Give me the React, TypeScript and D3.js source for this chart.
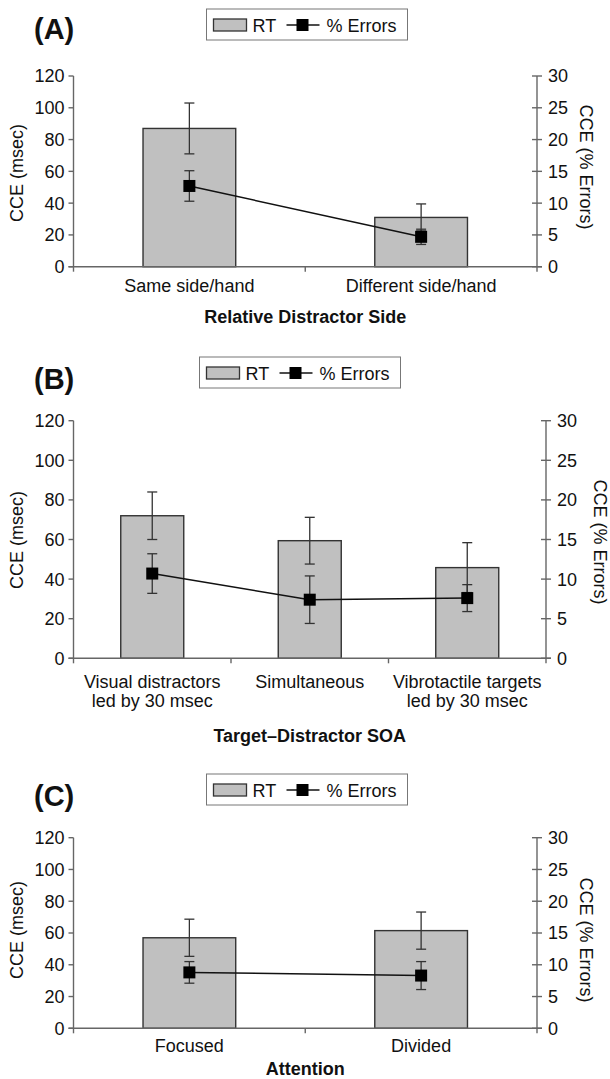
import React from "react";
import * as d3 from "d3";

// values
const leftTicks = [0, 20, 40, 60, 80, 100, 120];
const rightTicks = [0, 5, 10, 15, 20, 25, 30];

const sideCategories = ["Same side/hand", "Different side/hand"];
const sideRT = [87, 31];
const sideRTErr = [16, 8.5];
const sideErrors = [12.7, 4.7];
const sideErrorsErr = [2.4, 1.2];

const soaCategories = [
  "Visual distractors\nled by 30 msec",
  "Simultaneous",
  "Vibrotactile targets\nled by 30 msec",
];
const soaRT = [72, 59.4, 45.8];
const soaRTErr = [12, 11.8, 12.6];
const soaErrors = [10.7, 7.4, 7.6];
const soaErrorsErr = [2.5, 3, 1.7];

const attCategories = ["Focused", "Divided"];
const attRT = [57, 61.5];
const attRTErr = [11.7, 11.7];
const attErrors = [8.8, 8.3];
const attErrorsErr = [1.7, 2.2];

const FONT = "'Liberation Sans', Arial, Helvetica, sans-serif";
const BAR_FILL = "#c0c0c0";
const DARK = "#333";
const AXIS = "#666";

type PanelProps = {
  letter: string;
  title: string;
  categories: string[];
  rt: number[];
  rtErr: number[];
  errors: number[];
  errorsErr: number[];
  left: number;
  right: number;
  top: number;
  bottom: number;
  legendX: number;
  legendY: number;
  letterY: number;
  catY: number;
  titleY: number;
  leftLabelY: number;
  rightLabelX: number;
  rightLabelY: number;
};

const Panel = (p: PanelProps) => {
  const band = d3.scaleBand().domain(p.categories).range([p.left, p.right]);
  const y = d3.scaleLinear().domain([0, 120]).range([p.bottom, p.top]);
  const y2 = d3.scaleLinear().domain([0, 30]).range([p.bottom, p.top]);
  const cx = (c: string) => (band(c) as number) + band.bandwidth() / 2;
  const bw = band.bandwidth() * 0.4;

  const line = d3
    .line<number>()
    .x((_, i) => cx(p.categories[i]))
    .y((d) => y2(d));

  const cap = 5;
  const m = 12;
  const lx = p.legendX;
  const ly = p.legendY;

  return (
    <g fontFamily={FONT} fill="#111">
      <text x={34} y={p.letterY} fontSize={29} fontWeight="bold">
        {p.letter}
      </text>

      {/* legend */}
      <rect x={lx} y={ly} width={201} height={31} fill="#fff" stroke="#777" strokeWidth={1} />
      <rect x={lx + 7} y={ly + 10} width={33} height={12} fill={BAR_FILL} stroke={DARK} strokeWidth={1.3} />
      <text x={lx + 46} y={ly + 22.5} fontSize={18}>RT</text>
      <line x1={lx + 80} x2={lx + 113} y1={ly + 16} y2={ly + 16} stroke="#111" strokeWidth={1.4} />
      <rect x={lx + 96 - m / 2} y={ly + 16 - m / 2} width={m} height={m} fill="#000" />
      <text x={lx + 120} y={ly + 22.5} fontSize={18}>% Errors</text>

      {/* bars */}
      {p.categories.map((c, i) => (
        <rect
          key={c}
          x={cx(c) - bw / 2}
          y={y(p.rt[i])}
          width={bw}
          height={y(0) - y(p.rt[i])}
          fill={BAR_FILL}
          stroke={DARK}
          strokeWidth={1.4}
        />
      ))}
      {p.categories.map((c, i) => (
        <g key={c} stroke={DARK} strokeWidth={1.3}>
          <line x1={cx(c)} x2={cx(c)} y1={y(p.rt[i] + p.rtErr[i])} y2={y(p.rt[i] - p.rtErr[i])} />
          <line x1={cx(c) - cap} x2={cx(c) + cap} y1={y(p.rt[i] + p.rtErr[i])} y2={y(p.rt[i] + p.rtErr[i])} />
          <line x1={cx(c) - cap} x2={cx(c) + cap} y1={y(p.rt[i] - p.rtErr[i])} y2={y(p.rt[i] - p.rtErr[i])} />
        </g>
      ))}

      {/* axes */}
      <line x1={p.left} x2={p.left} y1={p.top} y2={p.bottom} stroke={AXIS} strokeWidth={1.4} />
      {leftTicks.map((t) => (
        <g key={t}>
          <line x1={p.left - 5} x2={p.left} y1={y(t)} y2={y(t)} stroke={AXIS} strokeWidth={1.4} />
          <text x={p.left - 9} y={y(t)} dy="0.36em" textAnchor="end" fontSize={18}>
            {t}
          </text>
        </g>
      ))}
      <line x1={p.right} x2={p.right} y1={p.top} y2={p.bottom} stroke={AXIS} strokeWidth={1.4} />
      {rightTicks.map((t) => (
        <g key={t}>
          <line x1={p.right - 5} x2={p.right + 5} y1={y2(t)} y2={y2(t)} stroke={AXIS} strokeWidth={1.4} />
          <text x={p.right + 11} y={y2(t)} dy="0.36em" fontSize={18}>
            {t}
          </text>
        </g>
      ))}
      <line x1={p.left - 5} x2={p.right + 5} y1={p.bottom} y2={p.bottom} stroke={AXIS} strokeWidth={1.4} />
      {[...p.categories.map((c) => band(c) as number), p.right].map((t, i) => (
        <line key={i} x1={t} x2={t} y1={p.bottom} y2={p.bottom + 5} stroke={AXIS} strokeWidth={1.4} />
      ))}

      {/* % errors line */}
      <path d={line(p.errors) || ""} fill="none" stroke="#111" strokeWidth={1.5} />
      {p.categories.map((c, i) => (
        <g key={c}>
          <g stroke={DARK} strokeWidth={1.3}>
            <line x1={cx(c)} x2={cx(c)} y1={y2(p.errors[i] + p.errorsErr[i])} y2={y2(p.errors[i] - p.errorsErr[i])} />
            <line x1={cx(c) - cap} x2={cx(c) + cap} y1={y2(p.errors[i] + p.errorsErr[i])} y2={y2(p.errors[i] + p.errorsErr[i])} />
            <line x1={cx(c) - cap} x2={cx(c) + cap} y1={y2(p.errors[i] - p.errorsErr[i])} y2={y2(p.errors[i] - p.errorsErr[i])} />
          </g>
          <rect x={cx(c) - m / 2} y={y2(p.errors[i]) - m / 2} width={m} height={m} fill="#000" />
        </g>
      ))}

      {/* category labels */}
      {p.categories.map((c) => (
        <text key={c} x={cx(c)} y={p.catY} textAnchor="middle" fontSize={18}>
          {c.split("\n").map((s, j) => (
            <tspan key={j} x={cx(c)} dy={j === 0 ? 0 : 19}>
              {s}
            </tspan>
          ))}
        </text>
      ))}
      <text x={(p.left + p.right) / 2} y={p.titleY} textAnchor="middle" fontSize={18} fontWeight="bold">
        {p.title}
      </text>

      <text transform={`translate(23,${p.leftLabelY}) rotate(-90)`} textAnchor="middle" fontSize={18}>
        CCE (msec)
      </text>
      <text transform={`translate(${p.rightLabelX},${p.rightLabelY}) rotate(90)`} textAnchor="middle" fontSize={18}>
        CCE (% Errors)
      </text>
    </g>
  );
};

export default function App() {
  return (
    <svg
      width={610}
      height={1079}
      style={{ position: "absolute", left: 0, top: 0, background: "#fff" }}
    >
      <rect width={610} height={1079} fill="#fff" />
      <Panel
        letter="(A)"
        title="Relative Distractor Side"
        categories={sideCategories}
        rt={sideRT}
        rtErr={sideRTErr}
        errors={sideErrors}
        errorsErr={sideErrorsErr}
        left={73.5}
        right={537}
        top={76}
        bottom={266.7}
        legendX={206.5}
        legendY={9}
        letterY={39}
        catY={292}
        titleY={323}
        leftLabelY={173}
        rightLabelX={580}
        rightLabelY={167}
      />
      <Panel
        letter="(B)"
        title="Target–Distractor SOA"
        categories={soaCategories}
        rt={soaRT}
        rtErr={soaRTErr}
        errors={soaErrors}
        errorsErr={soaErrorsErr}
        left={73.5}
        right={546}
        top={420.7}
        bottom={658.3}
        legendX={199.5}
        legendY={357}
        letterY={389}
        catY={688}
        titleY={742}
        leftLabelY={540}
        rightLabelX={594}
        rightLabelY={542}
      />
      <Panel
        letter="(C)"
        title="Attention"
        categories={attCategories}
        rt={attRT}
        rtErr={attRTErr}
        errors={attErrors}
        errorsErr={attErrorsErr}
        left={73.5}
        right={537}
        top={837.7}
        bottom={1028.3}
        legendX={206.5}
        legendY={774}
        letterY={806}
        catY={1052}
        titleY={1075}
        leftLabelY={930}
        rightLabelX={580}
        rightLabelY={940}
      />
    </svg>
  );
}
